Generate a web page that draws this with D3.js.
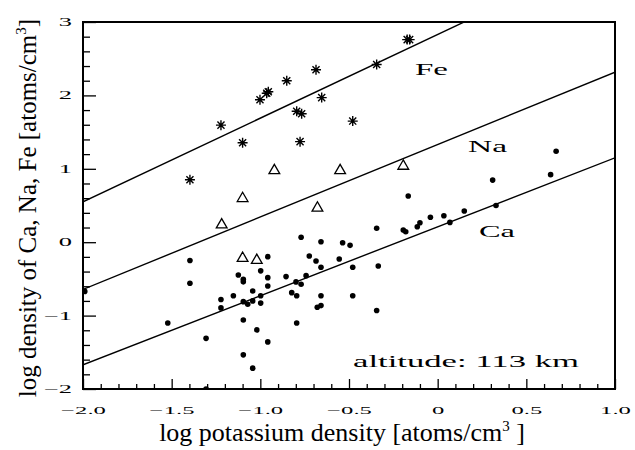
<!DOCTYPE html>
<html>
<head>
<meta charset="utf-8">
<script src="https://cdn.jsdelivr.net/npm/d3@7"></script>
<style>
  body { margin: 0; background: #fff; }
  text { fill: #000; }
</style>
</head>
<body>
<div id="chart"></div>
<script>
// 데이터
const feX = [-1.397, -1.222, -1.10, -1.002, -0.964, -0.955, -0.851, -0.686, -0.654, -0.795, -0.767, -0.776, -0.479, -0.344, -0.172, -0.158];
const feY = [0.85, 1.595, 1.355, 1.94, 2.03, 2.05, 2.20, 2.35, 1.97, 1.785, 1.75, 1.37, 1.65, 2.42, 2.76, 2.76];

const naX = [-1.218, -1.10, -1.10, -1.02, -0.921, -0.678, -0.55, -0.194];
const naY = [0.25, 0.61, -0.205, -0.233, 0.99, 0.48, 0.99, 1.05];

const caX = [-1.99, -1.397, -1.397, -1.522, -1.306, -1.306, -1.222, -1.222, -1.152, -1.124, -1.096, -1.096,
  -1.043, -1.096, -1.071, -1.043, -1.096, -1.02, -1.096, -1.043, -0.998, -0.998, -0.998, -0.958, -0.958,
  -0.958, -0.958, -0.855, -0.799, -0.770, -0.823, -0.795, -0.795, -0.770, -0.724, -0.742, -0.686, -0.658,
  -0.658, -0.658, -0.679, -0.658, -0.536, -0.494, -0.555, -0.479, -0.479, -0.166, -0.344, -0.194, -0.18,
  -0.335, -0.344, -0.115, -0.10, -0.041, 0.035, 0.069, 0.15, 0.329, 0.31, 0.637, 0.668];
const caY = [-0.67, -0.25, -0.56, -1.10, -1.31, -2.0, -0.78, -0.895, -0.73, -0.446, -0.505, -0.54,
  -0.664, -0.81, -0.845, -0.80, -1.06, -1.195, -1.535, -1.716, -0.39, -0.73, -0.83, -0.197, -0.483,
  -0.596, -1.358, -0.469, -0.541, -0.573, -0.687, -0.73, -1.10, 0.067, -0.188, -0.456, -0.256, 0.007,
  -0.342, -0.73, -0.886, -0.864, -0.007, -0.043, -0.228, -0.342, -0.73, 0.63, 0.19, 0.166, 0.143,
  -0.324, -0.93, 0.21, 0.265, 0.34, 0.36, 0.27, 0.425, 0.50, 0.846, 0.92, 1.24];

// 회귀선: 절편(x=0), 기울기
const fitNames = ["Fe", "Na", "Ca"];
const fitIntercept = [2.83, 1.33, 0.21];
const fitSlope = [1.14, 0.987, 0.94];

const xTicks = [-2.0, -1.5, -1.0, -0.5, 0, 0.5, 1.0];
const xTickLabels = ["\u22122.0", "\u22121.5", "\u22121.0", "\u22120.5", "0", "0.5", "1.0"];
const yTicks = [-2, -1, 0, 1, 2, 3];
const yTickLabels = ["\u22122", "\u22121", "0", "1", "2", "3"];

const width = 635, height = 450;
const mLeft = 83, mRight = 615, mTop = 22, mBottom = 389;
const serif = "Liberation Serif";

const svg = d3.select("#chart").append("svg")
  .attr("width", width).attr("height", height);

const x = d3.scaleLinear().domain([-2, 1]).range([mLeft, mRight]);
const y = d3.scaleLinear().domain([-2, 3]).range([mBottom, mTop]);

svg.append("clipPath").attr("id", "clip")
  .append("rect").attr("x", mLeft).attr("y", mTop)
  .attr("width", mRight - mLeft).attr("height", mBottom - mTop);

const plot = svg.append("g").attr("clip-path", "url(#clip)");

// 회귀선
fitNames.forEach(function(n, i) {
  const line = d3.line().x(d => x(d)).y(d => y(fitIntercept[i] + fitSlope[i] * d));
  plot.append("path")
    .datum([-2, 1])
    .attr("fill", "none").attr("stroke", "#000").attr("stroke-width", 1.4)
    .attr("d", line);
});

// Ca: 점
plot.selectAll(".ca").data(caX).enter().append("circle")
  .attr("cx", d => x(d)).attr("cy", (d, i) => y(caY[i]))
  .attr("r", 2.8).attr("fill", "#000");

// Na: 삼각형
const tri = d3.symbol().type(d3.symbolTriangle).size(50);
plot.selectAll(".na").data(naX).enter().append("path")
  .attr("d", tri)
  .attr("transform", (d, i) => `translate(${x(d)},${y(naY[i]) + 1})`)
  .attr("fill", "none").attr("stroke", "#000").attr("stroke-width", 1.3);

// Fe: 별표
const starR = 5;
const starPath = d3.range(4).map(function(k) {
  const a = k * Math.PI / 4;
  const dx = starR * Math.cos(a), dy = starR * Math.sin(a);
  return `M${-dx},${-dy}L${dx},${dy}`;
}).join("");
plot.selectAll(".fe").data(feX).enter().append("path")
  .attr("d", starPath)
  .attr("transform", (d, i) => `translate(${x(d)},${y(feY[i])})`)
  .attr("fill", "none").attr("stroke", "#000").attr("stroke-width", 1.4);

// 축 (안쪽 눈금)
const xMinor = d3.range(-2, 1.0001, 0.1).filter(v => Math.abs(v * 2 - Math.round(v * 2)) > 1e-6);
svg.append("g").attr("transform", `translate(0,${mBottom})`)
  .call(d3.axisBottom(x).tickValues(xMinor).tickSize(-5).tickFormat(""))
  .call(g => g.select(".domain").remove());
svg.append("g").attr("transform", `translate(0,${mBottom})`)
  .call(d3.axisBottom(x).tickValues(xTicks).tickSize(-10).tickPadding(18)
    .tickFormat((d, i) => xTickLabels[i]))
  .call(g => g.select(".domain").remove())
  .call(g => g.selectAll("text").attr("font-family", serif).attr("font-size", 10.5)
    .attr("transform", "scale(2.35,1)"));

const yMinor = d3.range(-2, 3.0001, 0.2).filter(v => Math.abs(v - Math.round(v)) > 1e-6);
svg.append("g").attr("transform", `translate(${mLeft},0)`)
  .call(d3.axisLeft(y).tickValues(yMinor).tickSize(-7).tickFormat(""))
  .call(g => g.select(".domain").remove());
svg.append("g").attr("transform", `translate(${mLeft},0)`)
  .call(d3.axisLeft(y).tickValues(yTicks).tickSize(-13)
    .tickFormat((d, i) => yTickLabels[i]))
  .call(g => g.select(".domain").remove())
  .call(g => g.selectAll("text").attr("font-family", serif).attr("font-size", 11.5)
    .attr("x", 0).attr("dy", "0.3em")
    .attr("transform", "translate(-11,0) scale(2.3,1)"));

svg.selectAll(".tick line").attr("stroke", "#000").attr("stroke-width", 1.3);

// 테두리
svg.append("rect")
  .attr("x", mLeft).attr("y", mTop).attr("width", mRight - mLeft).attr("height", mBottom - mTop)
  .attr("fill", "none").attr("stroke", "#000").attr("stroke-width", 2);

// 라벨 (가로로 늘어난 글꼴)
function label(txt, x0, y0, size, len) {
  svg.append("text").attr("x", x0).attr("y", y0)
    .attr("font-family", serif).attr("font-size", size)
    .attr("textLength", len).attr("lengthAdjust", "spacingAndGlyphs")
    .text(txt);
}
label("Fe", 415, 75, 16, 33);
label("Na", 468, 152, 16, 39);
label("Ca", 479, 237, 16, 36);
label("altitude: 113 km", 353, 367, 17, 226);

// 축 제목
svg.append("text").attr("x", 342).attr("y", 441).attr("text-anchor", "middle")
  .attr("font-family", serif).attr("font-size", 26)
  .html("log potassium density [atoms/cm<tspan dy='-10' font-size='15'>3</tspan><tspan dy='10'> ]</tspan>");

svg.append("text")
  .attr("transform", `translate(36,208) rotate(-90)`)
  .attr("text-anchor", "middle")
  .attr("font-family", serif).attr("font-size", 25)
  .html("log density of Ca, Na, Fe [atoms/cm<tspan dy='-10' font-size='15'>3</tspan><tspan dy='10'>]</tspan>");
</script>
</body>
</html>
